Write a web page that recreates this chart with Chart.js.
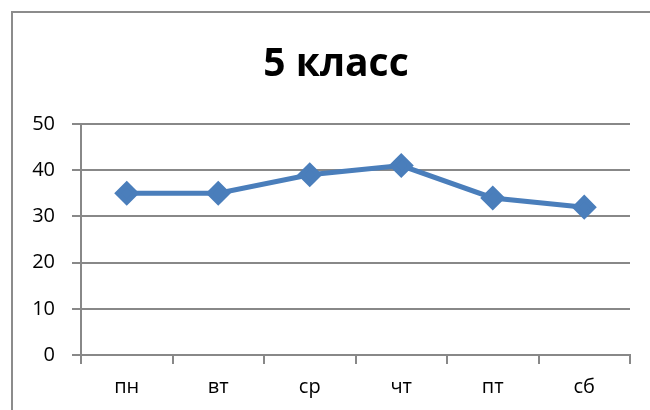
<!DOCTYPE html>
<html>
<head>
<meta charset="utf-8">
<script src="https://cdn.jsdelivr.net/npm/chart.js@4/dist/chart.umd.min.js"></script>
<style>
    html, body { margin: 0; padding: 0; background: #fff; }
    #wrap { width: 650px; height: 410px; position: relative; }
</style>
</head>
<body>
<div id="wrap"><canvas id="chart"></canvas></div>
<script>
const days = ['пн', 'вт', 'ср', 'чт', 'пт', 'сб'];
const scores = [35, 35, 39, 41, 34, 32];
const yTicks = [0, 10, 20, 30, 40, 50];
const chartTitle = '5 класс';

const lineBlue = '#4a7ebb';
const axisGray = '#888888';

// outer chart frame (cropped on the right and bottom in the picture) + title
const framePlugin = {
    id: 'frame',
    beforeDraw(chart) {
        const ctx = chart.ctx;
        ctx.save();
        ctx.fillStyle = '#fff';
        ctx.fillRect(0, 0, chart.width, chart.height);
        ctx.strokeStyle = '#8c8c8c';
        ctx.lineWidth = 2;
        ctx.beginPath();
        ctx.moveTo(12, chart.height);
        ctx.lineTo(12, 12);
        ctx.lineTo(chart.width, 12);
        ctx.stroke();

        ctx.fillStyle = '#000';
        ctx.font = 'bold 39px "Open Sans"';
        ctx.textAlign = 'center';
        ctx.textBaseline = 'middle';
        ctx.fillText(chartTitle, 336, 65);
        ctx.restore();
    }
};

const ctx = document.getElementById('chart').getContext('2d');
new Chart(ctx, {
    type: 'line',
    data: {
        labels: days,
        datasets: [{
            data: scores,
            borderColor: lineBlue,
            backgroundColor: lineBlue,
            borderWidth: 5,
            pointStyle: 'rectRot',
            pointRadius: 9,
            pointHoverRadius: 9,
            tension: 0
        }]
    },
    options: {
        responsive: true,
        maintainAspectRatio: false,
        animation: false,
        layout: { padding: { left: 15, right: 20, top: 124, bottom: 0 } },
        plugins: {
            legend: { display: false },
            tooltip: { enabled: false },
            title: { display: false }
        },
        scales: {
            x: {
                offset: true,
                grid: { drawOnChartArea: false, drawTicks: true, tickLength: 9, offset: true, color: axisGray, lineWidth: 2 },
                border: { display: true, color: axisGray, width: 2 },
                ticks: { color: '#000', padding: 11, font: { family: 'Open Sans', size: 20 } },
                afterFit(scale) { scale.height = 55; }
            },
            y: {
                min: 0,
                max: 50,
                afterBuildTicks(scale) { scale.ticks = yTicks.map(v => ({ value: v })); },
                grid: { color: axisGray, lineWidth: 2, tickLength: 9 },
                border: { display: true, color: axisGray, width: 2 },
                ticks: { color: '#000', padding: 17, font: { family: 'Open Sans', size: 20 } },
                afterFit(scale) { scale.width = 66; }
            }
        }
    },
    plugins: [framePlugin]
});
</script>
</body>
</html>
